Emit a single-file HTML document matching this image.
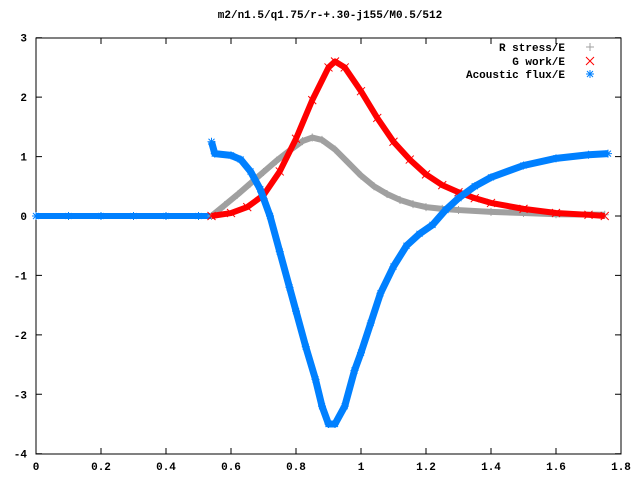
<!DOCTYPE html>
<html><head><meta charset="utf-8"><style>
body{margin:0;background:#fff}
svg{display:block;font-family:"Liberation Mono",monospace;font-size:11px;font-weight:bold}
</style></head><body>
<svg id="c" width="640" height="480">
<rect x="36" y="38" width="585" height="416" fill="none" stroke="#000" stroke-width="1"/>
<text x="330" y="18" text-anchor="middle">m2/n1.5/q1.75/r-+.30-j155/M0.5/512</text>
<g id="axes"></g><g id="marks"></g>
<g>
<text x="565" y="51" text-anchor="end">R stress/E</text>
<text x="565" y="65" text-anchor="end">G work/E</text>
<text x="565" y="78" text-anchor="end">Acoustic flux/E</text>
<path d="M586 47h8M590 43v8" stroke="#a0a0a0"/>
<path d="M586 57l8 8M594 57l-8 8" stroke="#f00"/>
<path d="M586 74h8M590 70v8M587 71l6 6M593 71l-6 6" stroke="#0080ff"/>
</g>
</svg>
<script>
const xTicks=[0,0.2,0.4,0.6,0.8,1,1.2,1.4,1.6,1.8];
const xTickLabels=["0","0.2","0.4","0.6","0.8","1","1.2","1.4","1.6","1.8"];
const yTicks=[-4,-3,-2,-1,0,1,2,3];
const yTickLabels=["-4","-3","-2","-1","0","1","2","3"];
const zeroX=[0,0.1,0.2,0.3,0.4,0.5,0.54];
const zeroY=[0,0,0,0,0,0,0];
const rX=[0.54,0.58,0.62,0.66,0.70,0.74,0.78,0.82,0.85,0.88,0.92,0.96,1.0,1.04,1.08,1.12,1.16,1.2,1.25,1.3,1.4,1.5,1.6,1.75];
const rY=[0,0.18,0.36,0.55,0.74,0.93,1.1,1.26,1.32,1.28,1.12,0.9,0.68,0.5,0.37,0.27,0.2,0.15,0.12,0.1,0.07,0.05,0.03,0.02];
const gX=[0.54,0.6,0.65,0.7,0.75,0.8,0.85,0.9,0.92,0.95,1.0,1.05,1.1,1.15,1.2,1.25,1.3,1.35,1.4,1.5,1.6,1.7,1.75];
const gY=[0,0.05,0.15,0.35,0.75,1.3,1.95,2.5,2.6,2.5,2.1,1.65,1.25,0.95,0.7,0.52,0.4,0.3,0.22,0.12,0.05,0.02,0];
const fX=[0.54,0.55,0.6,0.63,0.66,0.69,0.72,0.75,0.78,0.8,0.83,0.86,0.88,0.9,0.92,0.95,0.98,1.0,1.03,1.06,1.1,1.14,1.18,1.22,1.26,1.3,1.35,1.4,1.5,1.6,1.7,1.76];
const fY=[1.25,1.05,1.02,0.95,0.75,0.45,0.0,-0.6,-1.2,-1.6,-2.2,-2.75,-3.2,-3.5,-3.5,-3.2,-2.6,-2.3,-1.8,-1.3,-0.85,-0.5,-0.3,-0.15,0.1,0.3,0.5,0.65,0.85,0.97,1.03,1.05];
const sx=v=>36+v*325, sy=v=>216-v*59.43;
const NS="http://www.w3.org/2000/svg";
const ax=document.getElementById('axes'), mk=document.getElementById('marks');
function mkEl(t,a,p){const e=document.createElementNS(NS,t);for(const k in a)e.setAttribute(k,a[k]);p.appendChild(e);return e;}
xTicks.forEach((t,i)=>{
 const e=mkEl('path',{d:`M${sx(t)} 454v-6M${sx(t)} 38v6`,stroke:'#000'},ax);
 
 
 const l=mkEl('text',{x:sx(t),y:470,'text-anchor':'middle'},ax);l.textContent=xTickLabels[i];
 
 
});
yTicks.forEach((t,i)=>{
 const e=mkEl('path',{d:`M36 ${sy(t)}h6M621 ${sy(t)}h-6`,stroke:'#000'},ax);
 
 
 const l=mkEl('text',{x:27,y:sy(t)+4,'text-anchor':'end'},ax);l.textContent=yTickLabels[i];
 
 
});
function series(xs,ys,col,name,shape,w){
 const g=mkEl('g',{},mk);
 
 
 const pl=mkEl('polyline',{points:xs.map((x,i)=>sx(x)+','+sy(ys[i])).join(' '),fill:'none',stroke:col,'stroke-width':w,'stroke-linejoin':'round'},g);
 
 
 xs.forEach((x,i)=>{
  const X=sx(x),Y=sy(ys[i]);let d;
  if(shape==='+')d=`M${X-4} ${Y}h8M${X} ${Y-4}v8`;
  else if(shape==='x')d=`M${X-4} ${Y-4}l8 8M${X+4} ${Y-4}l-8 8`;
  else d=`M${X-4} ${Y}h8M${X} ${Y-4}v8M${X-3} ${Y-3}l6 6M${X+3} ${Y-3}l-6 6`;
  const p=mkEl('path',{d:d,stroke:col,'stroke-width':1},g);
  
  
 });
}
series(zeroX,zeroY,'#0080ff','flux-zero','*',6);
series(rX,rY,'#a0a0a0','r-stress-series','+',6);
series(gX,gY,'#ff0000','g-work-series','x',6);
series(fX,fY,'#0080ff','acoustic-flux-series','*',7);
</script>
</body></html>
